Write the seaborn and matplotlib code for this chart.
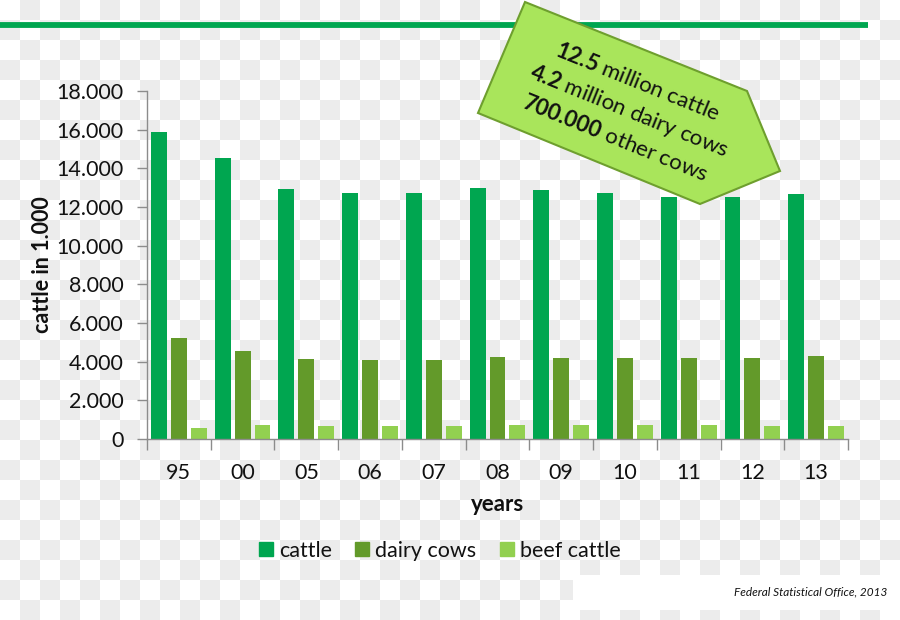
import numpy as np
import pandas as pd
import matplotlib
matplotlib.use("Agg")
import matplotlib.pyplot as plt
from matplotlib.patches import Polygon, Rectangle
from matplotlib.lines import Line2D
from matplotlib.ticker import FuncFormatter, FixedLocator
import seaborn as sns

# ---- data (in 1,000 head) ----
years = ["95", "00", "05", "06", "07", "08", "09", "10", "11", "12", "13"]
cattle = [15890, 14540, 12920, 12750, 12710, 12990, 12900, 12710, 12530, 12510, 12690]
dairy_cows = [5230, 4560, 4160, 4080, 4090, 4230, 4170, 4180, 4190, 4190, 4270]
beef_cattle = [590, 740, 680, 680, 680, 740, 740, 710, 710, 680, 680]
series = ["cattle", "dairy cows", "beef cattle"]
colors = ["#00A650", "#639A2A", "#92D050"]

df = pd.DataFrame({
    "year": years * 3,
    "value": cattle + dairy_cows + beef_cattle,
    "series": [s for s in series for _ in years],
})

sns.set_theme(style="white")
plt.rcParams["font.family"] = ["Lato", "DejaVu Sans"]
plt.rcParams["mathtext.fontset"] = "custom"
plt.rcParams["mathtext.rm"] = "Lato"
plt.rcParams["mathtext.bf"] = "Lato:bold"

W, H = 900, 620
fig = plt.figure(figsize=(9, 6.2), dpi=100)
fig.patch.set_facecolor("white")

# checkerboard background (transparent-image look)
yy, xx = np.mgrid[0:H, 0:W]
chk = ((xx // 20 + yy // 20) % 2).astype(float)
img = np.where(chk[..., None] == 1, np.array([236, 236, 236]) / 255, np.array([1.0, 1.0, 1.0]))
fig.figimage(img, xo=0, yo=0, origin="upper", zorder=-10)

def fx(x):
    return x / W

def fy(y):
    return 1 - y / H

ax = fig.add_axes([fx(147), fy(439), fx(848) - fx(147), fy(91) - fy(439)])
ax.set_facecolor("none")

sns.barplot(data=df, x="year", y="value", hue="series", hue_order=series,
            palette=colors, width=0.9375, gap=0.2, ax=ax, saturation=1,
            legend=False, edgecolor="none")

ax.set_ylim(0, 18000)
ax.set_xlim(-0.5, len(years) - 0.5)
ax.yaxis.set_major_locator(FixedLocator(np.arange(0, 18001, 2000)))
ax.yaxis.set_major_formatter(FuncFormatter(lambda v, p: "0" if v == 0 else f"{int(v):,}".replace(",", ".")))

for s in ["top", "right"]:
    ax.spines[s].set_visible(False)
for s in ["left", "bottom"]:
    ax.spines[s].set_color("#8C8C8C")
    ax.spines[s].set_linewidth(1.0)

ax.tick_params(axis="y", which="major", direction="out", length=7, width=1,
               color="#8C8C8C", labelsize=15.5, pad=10, left=True)
ax.tick_params(axis="x", which="major", length=0, labelsize=15.5, pad=17)
ax.xaxis.set_minor_locator(FixedLocator(np.arange(-0.5, len(years), 1.0)))
ax.tick_params(axis="x", which="minor", direction="out", length=8, width=1,
               color="#8C8C8C", bottom=True)
for lab in ax.get_xticklabels() + ax.get_yticklabels():
    lab.set_color("#111111")

ax.set_xlabel("years", fontsize=16, fontweight="bold", labelpad=8, color="#111111")
ax.set_ylabel("cattle in 1.000", fontsize=15.5, fontweight="bold", labelpad=2, color="#111111")

# legend
handles = [Line2D([0], [0], marker="s", linestyle="none", markersize=10.5,
                  markerfacecolor=c, markeredgecolor=c) for c in colors]
fig.legend(handles, series, loc="center", bbox_to_anchor=(fx(439), fy(551)),
           ncol=3, frameon=False, fontsize=15.5, handletextpad=0.2,
           columnspacing=1.0, handlelength=0.8, labelcolor="#111111")

# top green rule
fig.add_artist(Line2D([0, fx(868)], [fy(24.5), fy(24.5)], color="#00A650", lw=4.2,
                      transform=fig.transFigure, solid_capstyle="butt", zorder=1))

# callout
pts = [(525, 2), (747, 91), (780, 171), (700, 204), (478, 113)]
fig.add_artist(Polygon([(fx(x), fy(y)) for x, y in pts], closed=True,
                       facecolor="#A9E55B", edgecolor="#6E9F2E", lw=1.5,
                       transform=fig.transFigure, zorder=5))
lines = [(r"$\mathbf{12.5}$ million cattle", 638, 82),
         (r"$\mathbf{4.2}$ million dairy cows", 629, 111),
         (r"$\mathbf{700.000}$ other cows", 615, 138)]
for txt, x, y in lines:
    fig.text(fx(x), fy(y), txt, rotation=-22, rotation_mode="anchor",
             ha="center", va="center", fontsize=16, color="#111111", zorder=6)

# source note
fig.add_artist(Rectangle((fx(573), fy(610)), fx(900) - fx(573), fy(575) - fy(610),
                         facecolor="white", edgecolor="none",
                         transform=fig.transFigure, zorder=1))
fig.text(fx(887), fy(592), "Federal Statistical Office, 2013", ha="right", va="center",
         fontsize=8.5, style="italic", color="#111111", zorder=2)

fig.savefig("out.png", dpi=100)
